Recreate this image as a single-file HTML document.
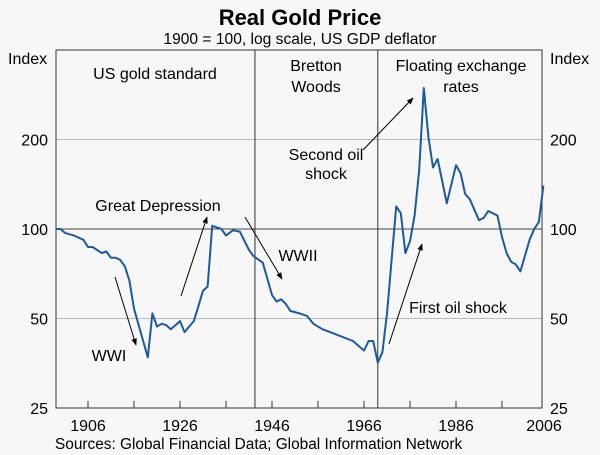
<!DOCTYPE html>
<html><head><meta charset="utf-8"><style>
html,body{margin:0;padding:0;background:#f7f7f7;}
svg{display:block;font-family:"Liberation Sans",Arial,sans-serif;}
</style></head><body>
<svg id="chart" width="600" height="455" viewBox="0 0 600 455">
<defs><marker id="ah" viewBox="0 0 10 10" refX="9" refY="5" markerWidth="7" markerHeight="7" orient="auto-start-reverse"><path d="M0,1 L10,5 L0,9 z" fill="#000"/></marker></defs>
<rect x="0" y="0" width="600" height="455" fill="#f7f7f7"/>
<text x="300" y="25" text-anchor="middle" font-size="22" font-weight="bold">Real Gold Price</text>
<text x="300" y="44" text-anchor="middle" font-size="15.6">1900 = 100, log scale, US GDP deflator</text>
<g id="grid"></g>
<g id="axes"></g>
<g id="series"></g>
<g id="annot" font-size="16">
<text x="155" y="79" text-anchor="middle">US gold standard</text>
<text x="316" y="71" text-anchor="middle"><tspan x="316">Bretton</tspan><tspan x="316" dy="21">Woods</tspan></text>
<text x="461" y="71" text-anchor="middle"><tspan x="461">Floating exchange</tspan><tspan x="461" dy="21">rates</tspan></text>
<text x="158" y="211" text-anchor="middle">Great Depression</text>
<line x1="181" y1="296" x2="207" y2="217" stroke="#000" stroke-width="1" marker-end="url(#ah)"/>
<text x="109" y="361" text-anchor="middle">WWI</text>
<line x1="115" y1="277" x2="136" y2="345" stroke="#000" stroke-width="1" marker-end="url(#ah)"/>
<text x="298" y="261" text-anchor="middle">WWII</text>
<line x1="245" y1="217" x2="282" y2="279" stroke="#000" stroke-width="1" marker-end="url(#ah)"/>
<text x="326" y="160" text-anchor="middle"><tspan x="326">Second oil</tspan><tspan x="326" dy="19">shock</tspan></text>
<line x1="363" y1="150" x2="413" y2="98" stroke="#000" stroke-width="1" marker-end="url(#ah)"/>
<text x="458" y="313" text-anchor="middle">First oil shock</text>
<line x1="389" y1="344" x2="422" y2="244" stroke="#000" stroke-width="1" marker-end="url(#ah)"/>
</g>
<text x="55" y="449" font-size="15.4">Sources: Global Financial Data; Global Information Network</text>
</svg>
<script>
const years = [1899,1900,1901,1903,1905,1906,1907,1909,1910,1911,1912,1913,1914,1915,1916,1919,1920,1921,1922,1923,1924,1926,1927,1928,1929,1930,1931,1932,1933,1935,1936,1937.5,1939,1941,1942,1944,1946,1947,1948,1949,1950,1952,1953.6,1955,1957,1958.6,1963.6,1966,1967,1968,1969,1970,1971,1973,1974,1975,1976,1977,1978,1979,1980,1981,1982,1984,1986,1987,1988,1989,1991,1992,1993,1995,1996,1997,1998,1999,2000,2002,2003,2004,2005];
const values = [100,100,97,95,92,87,87,83,84,80,80,78.7,75,67,54,37,52,47,48,47.5,46,49,45,47,49,55,62,64,102.5,100,95,99,98,85,81,77,60,57,58,56,53,52,51,48,46,45,42,39,42,42,35.5,38.5,52,119,113,83,91,111,158,298,204,161,172,122,164,154,131,126,107,109,115,111,94,83,77.5,76,72,92,100,105.5,140];
const yTicks = [25,50,100,200];
const xTicks = [1906,1926,1946,1966,1986,2006];
const minorTicks = [1916,1936,1956,1976,1996];
const dividers = [1942.3,1969];
const NS='http://www.w3.org/2000/svg';
const L=56,R=542,T=50,B=408;
function xs(yr){return 88+(yr-1906)*4.6;}
function ys(v){return 408-Math.log2(v/25)*89.5;}
function mk(tag,attrs,parent){const e=document.createElementNS(NS,tag);for(const k in attrs)e.setAttribute(k,attrs[k]);parent.appendChild(e);return e;}
const grid=document.getElementById('grid'),axes=document.getElementById('axes'),series=document.getElementById('series');
yTicks.forEach(v=>{
  const y=ys(v);
  if(v!==25){const g=mk('line',{x1:L,x2:R,y1:y,y2:y,stroke:v===100?'#444':'#bbb','stroke-width':1},grid);
  
  }
  const t1=mk('text',{x:L-8,y:y+6,'text-anchor':'end','font-size':16},axes);t1.textContent=v;
  
  
  const t2=mk('text',{x:R+8,y:y+6,'text-anchor':'start','font-size':16},axes);t2.textContent=v;
  
  
});
const il=mk('text',{x:8,y:64,'font-size':16},axes);il.textContent='Index';


const ir=mk('text',{x:550,y:64,'font-size':16},axes);ir.textContent='Index';


dividers.forEach((d,i)=>{const l=mk('line',{x1:xs(d),x2:xs(d),y1:T,y2:B,stroke:'#333','stroke-width':1},grid);
  
  });
xTicks.concat(minorTicks).forEach(yr=>{const x=xs(yr);if(x<R-2){const l=mk('line',{x1:x,x2:x,y1:B,y2:B-7,stroke:'#333','stroke-width':1},axes);
  
  }});
xTicks.forEach(yr=>{const t=mk('text',{x:Math.min(xs(yr),R+2),y:431,'text-anchor':'middle','font-size':16},axes);t.textContent=yr;
  
  });
const fr=mk('rect',{x:L,y:T,width:R-L,height:B-T,fill:'none',stroke:'#333','stroke-width':1},axes);


const d=years.map((yr,i)=>(i?'L':'M')+xs(yr).toFixed(1)+','+ys(values[i]).toFixed(1)).join(' ');
const p=mk('path',{d:d,fill:'none',stroke:'#1c5aa0','stroke-width':2,'stroke-linejoin':'round'},series);


</script>
</body></html>
